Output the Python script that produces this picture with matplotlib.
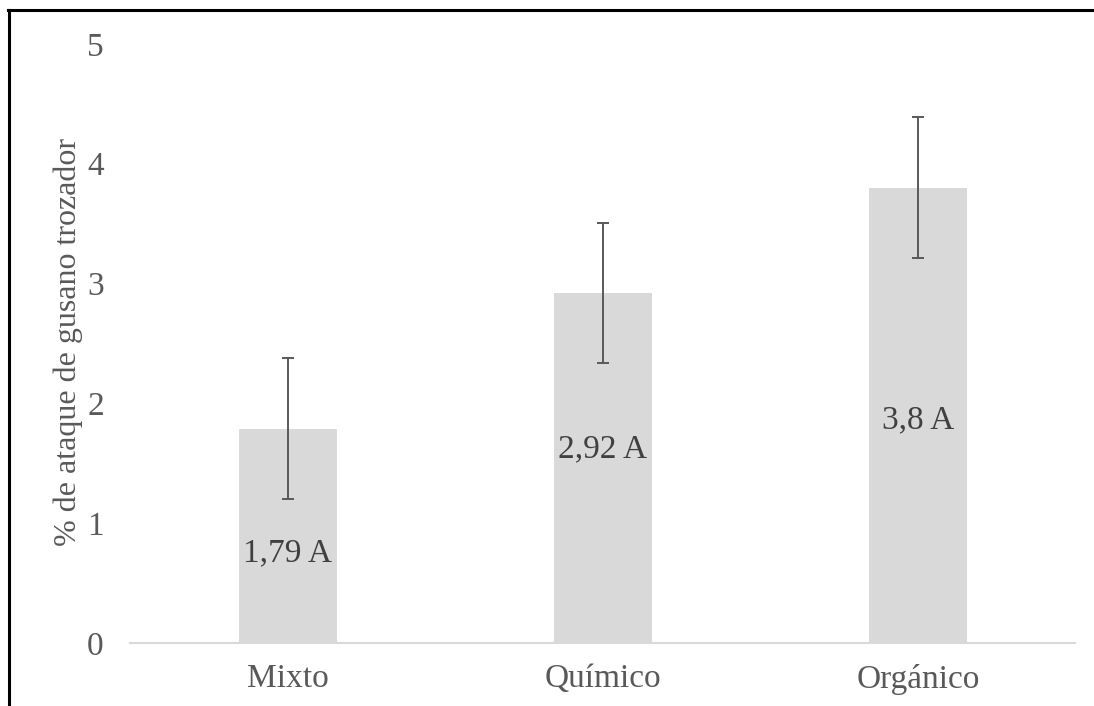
import matplotlib
matplotlib.use("Agg")
import matplotlib.pyplot as plt
from matplotlib.lines import Line2D

#data
categories = ['Mixto', 'Químico', 'Orgánico']
values = [1.79, 2.92, 3.8]
errors = [0.585, 0.585, 0.585]
letters = ['A', 'A', 'A']
label_y = [0.75, 1.62, 1.86]  # where each data label sits

grey_text = '#595959'
bar_color = '#d9d9d9'

plt.rcParams['font.family'] = ['Liberation Serif', 'DejaVu Serif']

fig = plt.figure(figsize=(10.94, 7.06), dpi=100)
ax = fig.add_axes([0.119, 0.089, 0.864, 0.849])

x = list(range(len(categories)))
ax.bar(x, values, width=0.31, color=bar_color, zorder=2)
ax.errorbar(x, values, yerr=errors, fmt='none', ecolor=grey_text,
            elinewidth=1.4, capsize=4.3, capthick=1.4, zorder=3)

#data labels
for xi, v, l, ly in zip(x, values, letters, label_y):
    txt = f"{v:g} {l}".replace('.', ',')
    ax.text(xi, ly, txt, ha='center', va='center', fontsize=24, color='#404040', zorder=4)

ax.set_xlim(-0.5, 2.5)
ax.set_ylim(0, 5)
ax.set_yticks([0, 1, 2, 3, 4, 5])
ax.set_xticks(x)
ax.set_xticklabels(categories)
ax.tick_params(axis='y', length=0, pad=19, labelsize=24, labelcolor=grey_text)
ax.tick_params(axis='x', length=0, pad=15, labelsize=24, labelcolor=grey_text)
for s in ['top', 'right', 'left']:
    ax.spines[s].set_visible(False)
ax.spines['bottom'].set_color(bar_color)
ax.spines['bottom'].set_linewidth(1.5)

ax.set_ylabel('% de ataque de gusano trozador', fontsize=23, color=grey_text, va='center')
ax.yaxis.set_label_coords(-0.066, 0.503)

#frame lines (top and left)
fig.add_artist(Line2D([0.0075, 1.0], [1 - 9.5 / 706, 1 - 9.5 / 706], color='black', lw=2.2, transform=fig.transFigure))
fig.add_artist(Line2D([9 / 1094, 9 / 1094], [0, 1 - 9.5 / 706], color='black', lw=2.2, transform=fig.transFigure))

plt.savefig('out.png', dpi=100)
